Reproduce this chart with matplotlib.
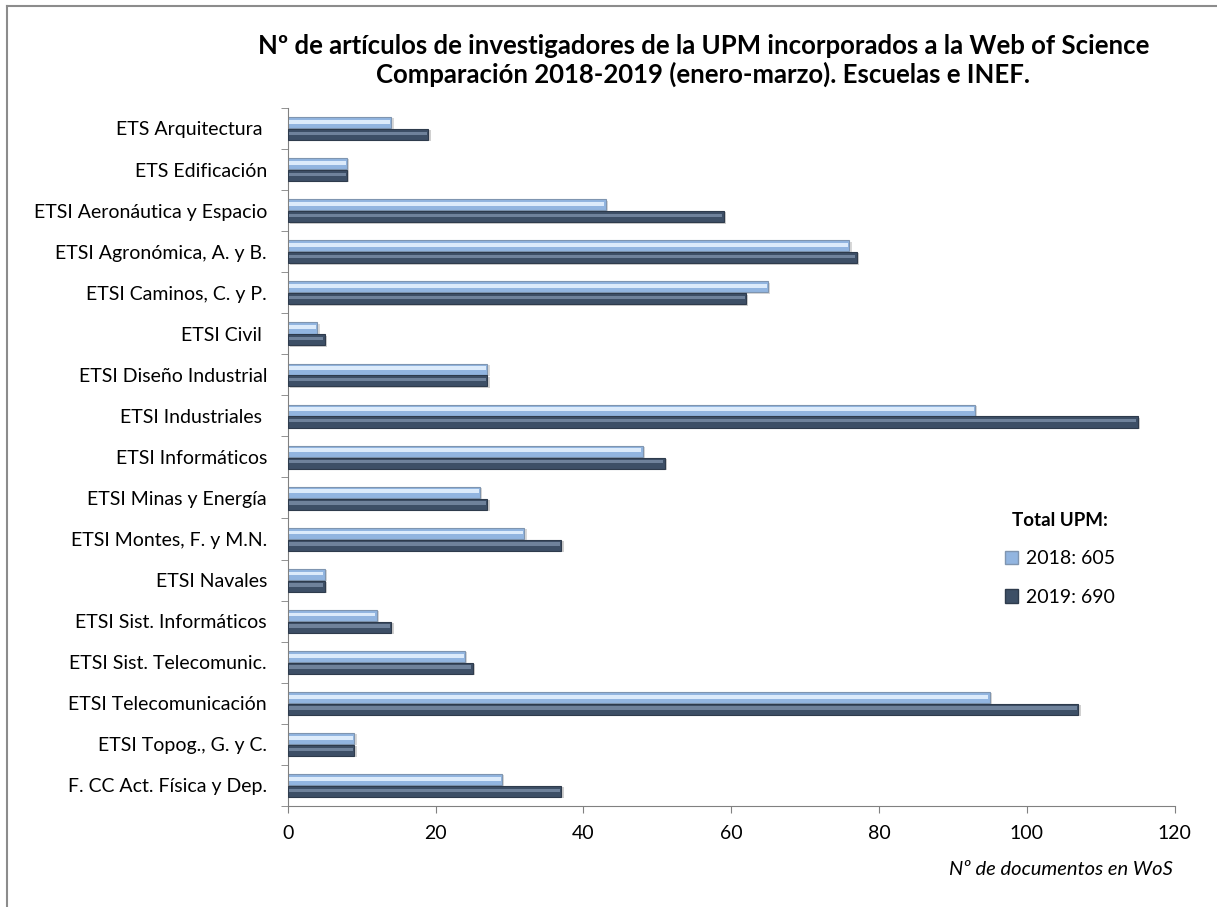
import numpy as np
import matplotlib.pyplot as plt
from matplotlib.patches import Patch
from matplotlib.lines import Line2D

plt.rcParams['font.family'] = ['Lato', 'DejaVu Sans']

escuelas = ['ETS Arquitectura ', 'ETS Edificación', 'ETSI Aeronáutica y Espacio',
            'ETSI Agronómica, A. y B.', 'ETSI Caminos, C. y P.', 'ETSI Civil ',
            'ETSI Diseño Industrial', 'ETSI Industriales ', 'ETSI Informáticos',
            'ETSI Minas y Energía', 'ETSI Montes, F. y M.N.', 'ETSI Navales',
            'ETSI Sist. Informáticos', 'ETSI Sist. Telecomunic.', 'ETSI Telecomunicación',
            'ETSI Topog., G. y C.', 'F. CC Act. Física y Dep.']
v2018 = [14, 8, 43, 76, 65, 4, 27, 93, 48, 26, 32, 5, 12, 24, 95, 9, 29]
v2019 = [19, 8, 59, 77, 62, 5, 27, 115, 51, 27, 37, 5, 14, 25, 107, 9, 37]
totales = {'2018': 605, '2019': 690}
xticks = [0, 20, 40, 60, 80, 100, 120]

c18 = '#92b5e0'
c18_hi = '#dcebfb'
c19 = '#3d4f66'
c19_hi = '#6f829b'

fig = plt.figure(figsize=(12.17, 9.07), dpi=100)
ax = fig.add_axes([0.2366, 0.1115, 0.7285, 0.7695])

y = np.arange(len(escuelas))
h = 0.27
# sombra
ax.barh(y - 0.14 + 0.03, v2018, height=h, left=0.3, color='#d8d8d8', zorder=1)
ax.barh(y + 0.15 + 0.03, v2019, height=h, left=0.3, color='#d0d0d0', zorder=1)
# barras
ax.barh(y - 0.14, v2018, height=h, color=c18, edgecolor='#7f95b0', linewidth=0.8, zorder=2)
ax.barh(y + 0.15, v2019, height=h, color=c19, edgecolor='#2e3b4c', linewidth=0.8, zorder=3)
# brillo
ax.barh(y - 0.16, np.array(v2018) - 0.4, height=h * 0.35, left=0.2, color=c18_hi, zorder=4)
ax.barh(y + 0.12, np.array(v2019) - 0.4, height=h * 0.3, left=0.2, color=c19_hi, zorder=4)

ax.set_ylim(len(escuelas) - 0.5, -0.5)
ax.set_xlim(0, 120)
ax.set_xticks(xticks)
ax.tick_params(axis='x', labelsize=14, length=5, color='#808080', pad=9)

ax.set_yticks(y)
ax.set_yticklabels(escuelas, fontsize=14)
ax.set_yticks(np.arange(len(escuelas) + 1) - 0.5, minor=True)
ax.tick_params(axis='y', which='major', length=0, pad=15)
ax.tick_params(axis='y', which='minor', length=5, color='#808080')

for s in ['top', 'right']:
    ax.spines[s].set_visible(False)
ax.spines['left'].set_color('#808080')
ax.spines['bottom'].set_color('#808080')

fig.text(0.578, 0.962, 'Nº de artículos de investigadores de la UPM incorporados a la Web of Science\n'
         'Comparación 2018-2019 (enero-marzo). Escuelas e INEF.',
         ha='center', va='top', fontsize=18.5, fontweight='bold', linespacing=1.15)

fig.text(0.964, 0.041, 'Nº de documentos en WoS', ha='right', va='center', fontsize=14.5, style='italic')

handles = [Patch(facecolor=c18, edgecolor='#7f95b0', label='2018: %d' % totales['2018']),
           Patch(facecolor=c19, edgecolor='#2e3b4c', label='2019: %d' % totales['2019'])]
leg = fig.legend(handles=handles, title='Total UPM:', frameon=False, fontsize=14,
                 loc='upper center', bbox_to_anchor=(1060 / 1217, 1 - 512 / 907),
                 bbox_transform=fig.transFigure, borderpad=0, borderaxespad=0,
                 labelspacing=1.1, handlelength=0.7, handleheight=0.7, handletextpad=0.4)
leg.get_title().set_fontweight('bold')
leg.get_title().set_fontsize(13.5)

# marco del gráfico
fig.add_artist(Line2D([0.006, 0.006], [0.0, 0.9935], color='#8c8c8c', lw=1.5))
fig.add_artist(Line2D([0.006, 1.0], [0.9935, 0.9935], color='#8c8c8c', lw=1.5))

fig.savefig('out.png', dpi=100)
